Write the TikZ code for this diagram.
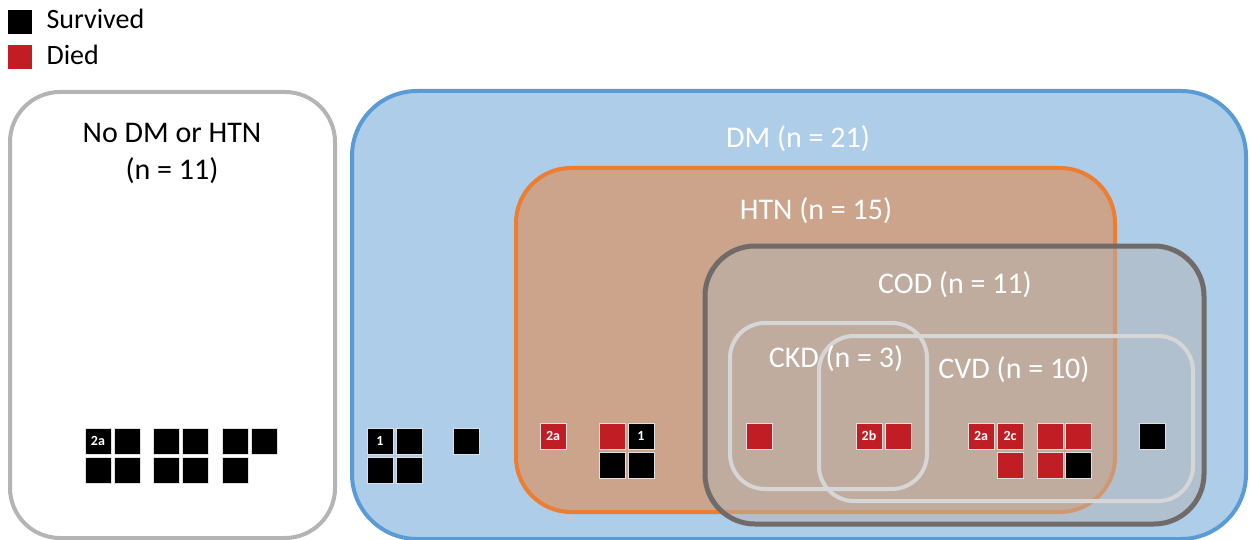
\documentclass[tikz,border=0pt]{standalone}
\usepackage{fontspec}
\setmainfont{Carlito}
\definecolor{dmblue}{RGB}{91,155,213}
\definecolor{dmfill}{RGB}{174,205,233}
\definecolor{htnorange}{RGB}{237,125,49}
\definecolor{htnfill}{RGB}{203,164,139}
\definecolor{codgray}{RGB}{112,107,105}
\definecolor{codfill}{RGB}{180,180,180}
\definecolor{subgray}{RGB}{214,214,214}
\definecolor{nonegray}{RGB}{180,180,180}
\definecolor{diedred}{RGB}{192,30,36}
\begin{document}
\begin{tikzpicture}[
    x=1pt, y=-1pt,
    patient/.style={
        draw=white!75!gray, line width=0.6pt,
        minimum size=26pt, inner sep=0pt,
        text=white, font=\fontsize{14}{14}\selectfont\bfseries
    },
    survived/.style={patient, fill=black},
    died/.style={patient, fill=diedred},
    legendkey/.style={minimum size=24pt, inner sep=0pt},
    legendtext/.style={anchor=base west, font=\fontsize{28}{34}\selectfont},
    setbox/.style={line width=4pt, rounded corners=#1},
    setlabel/.style={anchor=base, font=\fontsize{30}{36}\selectfont, text=white}
]
    \useasboundingbox (0,0) rectangle (1250,540);

    % Legend
    \node[legendkey, fill=black] (ksurv) at (20,22) {};
    \node[legendtext] (tsurv) at (43,29) {Survived};
    \node[legendkey, fill=diedred] (kdied) at (20,57) {};
    \node[legendtext] (tdied) at (43,65) {Died};

    % Sets
    \draw[setbox=50pt, draw=nonegray, fill=white] (10,92) rectangle (335,538);
    \draw[setbox=65pt, draw=dmblue, fill=dmfill] (352,91) rectangle (1246,539);
    \draw[setbox=55pt, draw=htnorange, fill=htnfill] (516,168) rectangle (1115,512);
    \draw[setbox=50pt, line width=5pt, draw=codgray, fill=codfill, fill opacity=0.5] (705,246) rectangle (1204,524);
    \draw[setbox=35pt, draw=subgray] (730,323) rectangle (927,489);
    \draw[setbox=35pt, draw=subgray] (819,336) rectangle (1193,501);

    % Set labels
    \node[setlabel, text=black] (none1) at (172,143) {No DM or HTN};
    \node[setlabel, text=black] (none2) at (172,180) {(n = 11)};
    \node[setlabel] (dm) at (798,148) {DM (n = 21)};
    \node[setlabel] (htn) at (816,220) {HTN (n = 15)};
    \node[setlabel] (cod) at (955,293) {COD (n = 11)};
    \node[setlabel] (ckd) at (836,367) {CKD (n = 3)};
    \node[setlabel] (cvd) at (1014,378) {CVD (n = 10)};

    % No DM or HTN
    \node[survived] (n1) at (98,441) {2a};
    \node[survived] (n2) at (127,441) {};
    \node[survived] (n3) at (98,470) {};
    \node[survived] (n4) at (127,470) {};
    \node[survived] (n5) at (166,441) {};
    \node[survived] (n6) at (195,441) {};
    \node[survived] (n7) at (166,470) {};
    \node[survived] (n8) at (195,470) {};
    \node[survived] (n9) at (235,441) {};
    \node[survived] (n10) at (264,441) {};
    \node[survived] (n11) at (235,470) {};

    % DM only
    \node[survived] (d1) at (380,441) {1};
    \node[survived] (d2) at (409,441) {};
    \node[survived] (d3) at (380,470) {};
    \node[survived] (d4) at (409,470) {};
    \node[survived] (d5) at (466,441) {};

    % DM + HTN
    \node[died] (h1) at (553,436) {2a};
    \node[died] (h2) at (612,436) {};
    \node[survived] (h3) at (641,436) {1};
    \node[survived] (h4) at (612,465) {};
    \node[survived] (h5) at (641,465) {};

    % COD
    \node[died] (c1) at (759,436) {};
    \node[died] (c2) at (869,436) {2b};
    \node[died] (c3) at (898,436) {};
    \node[died] (c4) at (981,436) {2a};
    \node[died] (c5) at (1010,436) {2c};
    \node[died] (c6) at (1010,465) {};
    \node[died] (c7) at (1050,436) {};
    \node[died] (c8) at (1078,436) {};
    \node[died] (c9) at (1050,465) {};
    \node[survived] (c10) at (1078,465) {};
    \node[survived] (c11) at (1152,436) {};

\end{tikzpicture}
\end{document}
